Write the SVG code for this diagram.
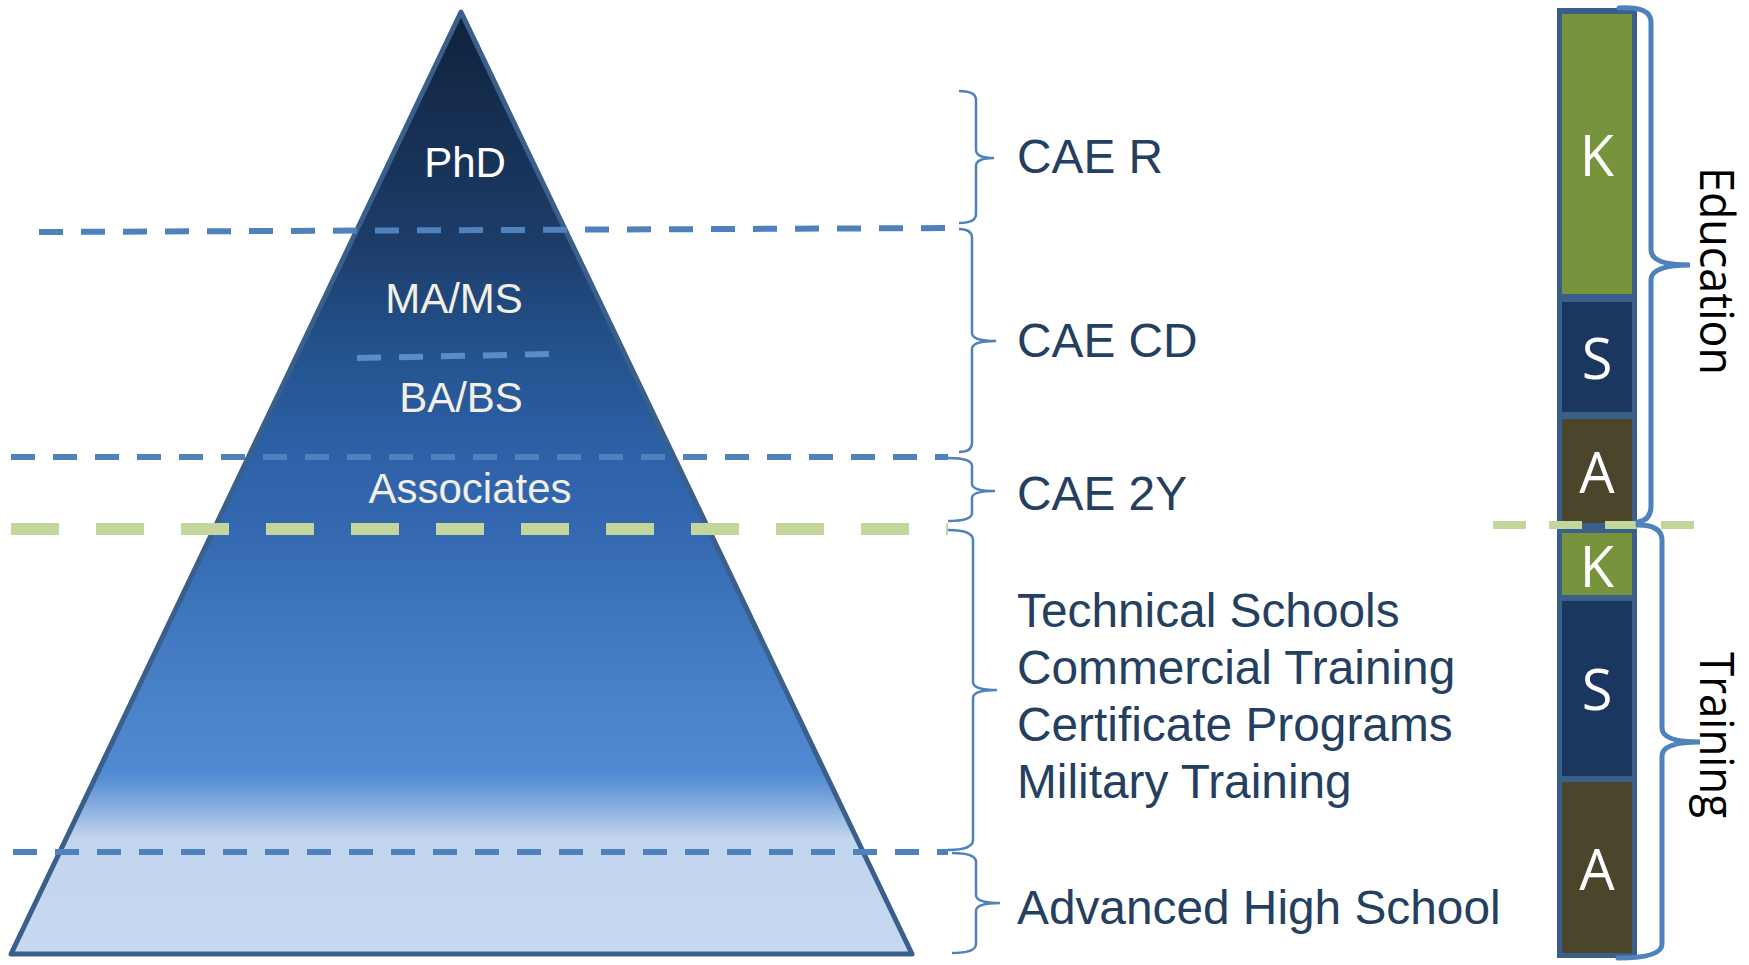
<svg xmlns="http://www.w3.org/2000/svg" width="1749" height="965" viewBox="0 0 1749 965">
<style>
.pt{font-family:"Liberation Sans",Arial,sans-serif;font-size:42px;fill:#F2F0E6;text-anchor:middle}
.lb{font-family:"Liberation Sans",Arial,sans-serif;font-size:47.8px;fill:#243F60}
.ksa{font-family:"Open Sans","Noto Sans",sans-serif;font-size:56px;fill:#FFFFFF;text-anchor:middle}
.side{font-family:"Open Sans","Noto Sans",sans-serif;font-size:48px;fill:#000000}
.bl{stroke:#4F81BD;stroke-width:6;stroke-dasharray:24 18;fill:none}
.gr{stroke:#C3D69B;stroke-width:12;stroke-dasharray:48 37;fill:none}
.br{stroke:#4F81BD;stroke-width:2.5;fill:none}
.bb{stroke:#4F81BD;stroke-width:5;fill:none;stroke-linecap:round}
</style>
<defs>
<linearGradient id="pg" gradientUnits="userSpaceOnUse" x1="0" y1="12" x2="0" y2="955">
<stop offset="0" stop-color="#10223C"/>
<stop offset="0.233" stop-color="#1C3B66"/>
<stop offset="0.366" stop-color="#24538F"/>
<stop offset="0.474" stop-color="#2D62A9"/>
<stop offset="0.549" stop-color="#3469B2"/>
<stop offset="0.73" stop-color="#4A82C9"/>
<stop offset="0.805" stop-color="#5289D3"/>
<stop offset="0.82" stop-color="#6195D6"/>
<stop offset="0.85" stop-color="#95B6E2"/>
<stop offset="0.876" stop-color="#C2D5EE"/>
<stop offset="1" stop-color="#C6D9F0"/>
</linearGradient>
</defs>
<rect width="1749" height="965" fill="#FFFFFF"/>

<g id="pyramid">
<polygon points="461,12 912,954 11,954" fill="url(#pg)" stroke="#3A5F8B" stroke-width="5" stroke-linejoin="round"/>
<text class="pt" x="465" y="177" style="fill:#FFFFFF">PhD</text>
<text class="pt" x="454" y="313">MA/MS</text>
<text class="pt" x="461" y="412">BA/BS</text>
<text class="pt" x="470" y="503">Associates</text>
</g>

<g id="connectors">
<line class="bl" x1="39" y1="232" x2="958" y2="228"/>
<line class="bl" x1="357" y1="358" x2="552" y2="354" style="stroke:#5B8CC8"/>
<line class="bl" x1="11" y1="457" x2="948" y2="457"/>
<line class="gr" x1="11" y1="529" x2="948" y2="529"/>
<line class="bl" x1="13" y1="852" x2="948" y2="852"/>
<path class="br" d="M959,91 Q976,91 976,100 L976,150 Q976,158 994,158 Q976,158 976,166 L976,214 Q976,223 959,223"/>
<path class="br" d="M959,229 Q972,229 972,238 L972,333 Q972,341 996,341 Q972,341 972,349 L972,443 Q972,452 959,452"/>
<path class="br" d="M948,458 Q972,458 972,466 L972,484 Q972,491 995,491 Q972,491 972,498 L972,513 Q972,521 948,521"/>
<path class="br" d="M948,530 Q973,530 973,540 L973,682 Q973,690 997,690 Q973,690 973,698 L973,840 Q973,850 948,850"/>
<path class="br" d="M952,853 Q976,853 976,862 L976,895 Q976,903 1000,903 Q976,903 976,911 L976,944 Q976,953 952,953"/>
</g>

<g id="labels">
<text class="lb" x="1017" y="173">CAE R</text>
<text class="lb" x="1017" y="357">CAE CD</text>
<text class="lb" x="1017" y="510">CAE 2Y</text>
<text class="lb" x="1017" y="627">Technical Schools</text>
<text class="lb" x="1017" y="684">Commercial Training</text>
<text class="lb" x="1017" y="741">Certificate Programs</text>
<text class="lb" x="1017" y="798">Military Training</text>
<text class="lb" x="1017" y="924">Advanced High School</text>
</g>

<g id="ksa-bar">
<rect x="1557" y="8" width="80" height="950" fill="#3A5F8B"/>
<rect x="1562" y="14" width="70" height="280" fill="#77933C"/>
<rect x="1562" y="302" width="70" height="110" fill="#1B375F"/>
<rect x="1562" y="419" width="70" height="104" fill="#4A452B"/>
<rect x="1562" y="533" width="70" height="62" fill="#77933C"/>
<rect x="1562" y="601" width="70" height="175" fill="#1B375F"/>
<rect x="1562" y="782" width="70" height="171" fill="#4A452B"/>
<text class="ksa" x="1597" y="176">K</text>
<text class="ksa" x="1597" y="379">S</text>
<text class="ksa" x="1597" y="493">A</text>
<text class="ksa" x="1597" y="587">K</text>
<text class="ksa" x="1597" y="710">S</text>
<text class="ksa" x="1597" y="890">A</text>
</g>

<g id="right-divider">
<line x1="1493" y1="525" x2="1694" y2="525" stroke="#C3D69B" stroke-width="8" stroke-dasharray="33 23"/>
</g>

<g id="education">
<path class="bb" d="M1619,8 Q1651,6 1651,22 L1651,250 Q1651,265 1690,265 Q1651,265 1651,280 L1651,506 Q1651,520 1638,522"/>
<text class="side" transform="translate(1700,167) rotate(90)" textLength="208" lengthAdjust="spacingAndGlyphs">Education</text>
</g>

<g id="training">
<path class="bb" d="M1638,525 Q1662,525 1662,540 L1662,728 Q1662,742 1700,742 Q1662,742 1662,756 L1662,944 Q1662,958 1618,958"/>
<text class="side" transform="translate(1700,652) rotate(90)" textLength="166" lengthAdjust="spacingAndGlyphs">Training</text>
</g>
</svg>
